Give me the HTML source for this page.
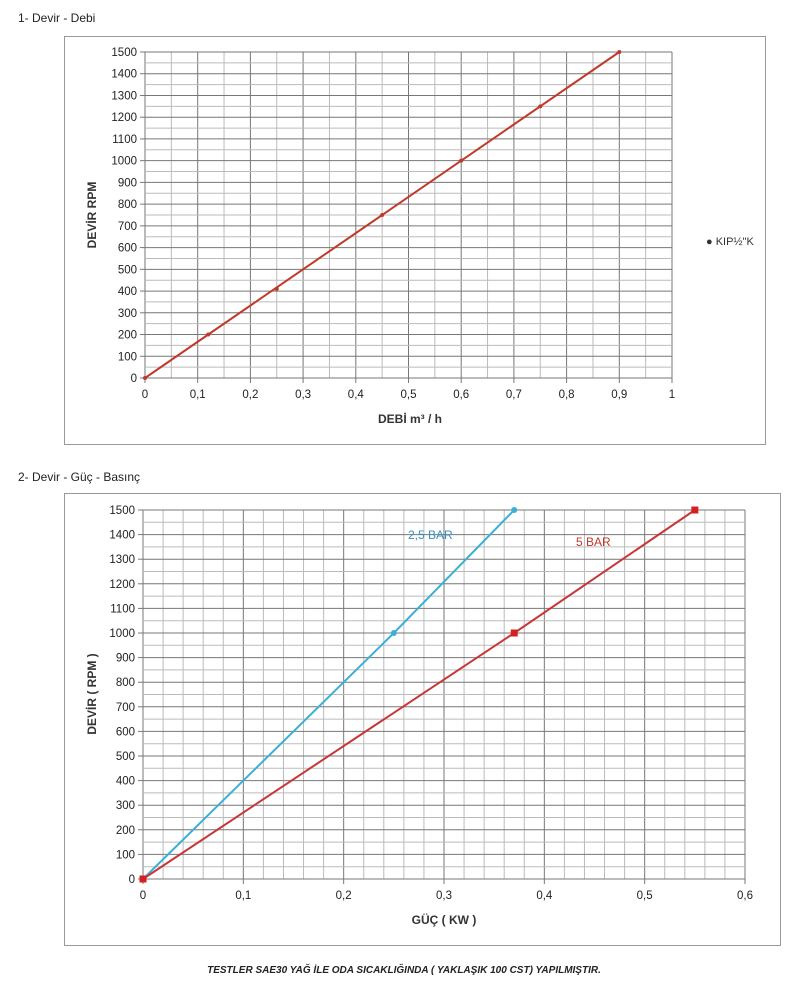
<!DOCTYPE html>
<html><head><meta charset="utf-8"><style>
body{margin:0;background:#fff;width:808px;height:1000px;overflow:hidden}
svg{position:absolute;left:0;top:0;font-family:"Liberation Sans","DejaVu Sans",sans-serif}
</style></head><body>
<svg id="s" width="808" height="1000" xmlns="http://www.w3.org/2000/svg">
<text x="18" y="22" font-size="12" fill="#222">1- Devir - Debi</text>
<rect x="64.5" y="36.5" width="701" height="408" fill="none" stroke="#999"/>
<text x="18" y="481" font-size="12" fill="#222">2- Devir - Güç - Basınç</text>
<rect x="64.5" y="493.5" width="716" height="452" fill="none" stroke="#999"/>
<g id="g1"></g><g id="g2"></g>
<text x="706" y="245" font-size="11" fill="#333">● KIP½"K</text>
<text x="410" y="423" font-size="12" font-weight="bold" text-anchor="middle" fill="#333">DEBİ m³ / h</text>
<text transform="translate(96,215) rotate(-90)" font-size="12" font-weight="bold" text-anchor="middle" fill="#333">DEVİR RPM</text>
<text x="444" y="924" font-size="12" font-weight="bold" text-anchor="middle" fill="#333">GÜÇ ( KW )</text>
<text transform="translate(96,694) rotate(-90)" font-size="12" font-weight="bold" text-anchor="middle" fill="#333">DEVİR ( RPM )</text>
<text x="408" y="539" font-size="12" fill="#3a8fc0">2,5 BAR</text>
<text x="576" y="546" font-size="12" fill="#c0392b">5 BAR</text>
<text x="404" y="973" font-size="10" font-weight="bold" font-style="italic" text-anchor="middle" fill="#222">TESTLER SAE30 YAĞ İLE ODA SICAKLIĞINDA ( YAKLAŞIK 100 CST) YAPILMIŞTIR.</text>
</svg>
<script>
const NS="http://www.w3.org/2000/svg";
function el(p,t,a,txt){const e=document.createElementNS(NS,t);for(const k in a)e.setAttribute(k,a[k]);if(txt!=null)e.textContent=txt;p.appendChild(e);return e;}
function chart(g,x0,x1,y0,y1,xmax,xstep,xsub,xlab,ysub){
 const X=v=>x0+(x1-x0)*v/xmax, Y=v=>y0-(y0-y1)*v/1500;
 const nx=Math.round(xmax/xstep)*xsub;
 for(let i=0;i<=nx;i++){const x=x0+(x1-x0)*i/nx;el(g,'line',{x1:x,x2:x,y1:y1,y2:y0,stroke:i%xsub?'#bbb':'#777','stroke-width':1});}
 for(let i=0;i<=30;i++){const y=y0-(y0-y1)*i/30;el(g,'line',{x1:x0,x2:x1,y1:y,y2:y,stroke:i%2?'#bbb':'#777','stroke-width':1});}
 for(let v=0;v<=1500;v+=100){el(g,'line',{x1:x0-5,x2:x0,y1:Y(v),y2:Y(v),stroke:'#777'});el(g,'text',{x:x0-8,y:Y(v)+4,'font-size':11.5,'text-anchor':'end',fill:'#222'},v);}
 xlab.forEach((l,i)=>{const x=X(i*xstep);el(g,'line',{x1:x,x2:x,y1:y0,y2:y0+5,stroke:'#777'});el(g,'text',{x:x,y:y0+20,'font-size':11.5,'text-anchor':'middle',fill:'#222'},l);});
 return [X,Y];
}
let g1=document.getElementById('g1');
let [X,Y]=chart(g1,145,672,378,52,1,0.1,2,['0','0,1','0,2','0,3','0,4','0,5','0,6','0,7','0,8','0,9','1']);
el(g1,'polyline',{points:`${X(0)},${Y(0)} ${X(0.9)},${Y(1500)}`,fill:'none',stroke:'#c0392b','stroke-width':2});
[[0,0],[0.12,200],[0.25,410],[0.45,750],[0.6,1000],[0.75,1250],[0.9,1500]].forEach(p=>el(g1,'circle',{cx:X(p[0]),cy:Y(p[1]),r:2,fill:'#c0392b'}));
let g2=document.getElementById('g2');
[X,Y]=chart(g2,143,745,879,510,0.6,0.1,5,['0','0,1','0,2','0,3','0,4','0,5','0,6']);
el(g2,'polyline',{points:`${X(0)},${Y(0)} ${X(0.25)},${Y(1000)} ${X(0.37)},${Y(1500)}`,fill:'none',stroke:'#3bb0d4','stroke-width':2});
el(g2,'polyline',{points:`${X(0)},${Y(0)} ${X(0.37)},${Y(1000)} ${X(0.55)},${Y(1500)}`,fill:'none',stroke:'#c83737','stroke-width':2});
[[0.25,1000],[0.37,1500]].forEach(p=>el(g2,'circle',{cx:X(p[0]),cy:Y(p[1]),r:3,fill:'#3bb0d4'}));
[[0,0],[0.37,1000],[0.55,1500]].forEach(p=>el(g2,'rect',{x:X(p[0])-3.5,y:Y(p[1])-3.5,width:7,height:7,fill:'#d42020'}));
</script>
</body></html>
